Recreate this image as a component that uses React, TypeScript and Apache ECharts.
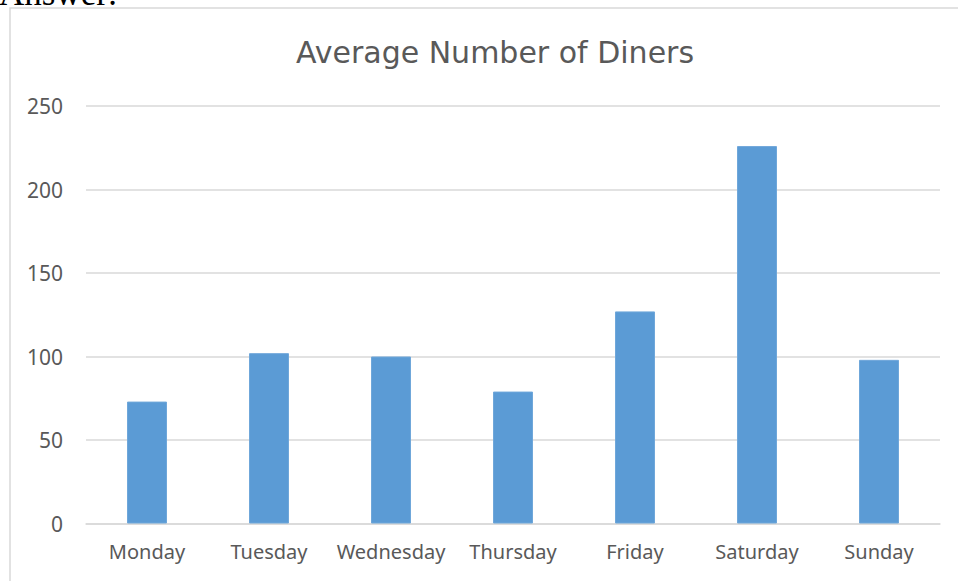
import React, { useEffect, useRef } from "react";
import * as echarts from "echarts";

const categories = ["Monday", "Tuesday", "Wednesday", "Thursday", "Friday", "Saturday", "Sunday"];
const diners = [73, 102, 100, 79, 127, 226, 98];
const chartTitle = "Average Number of Diners";
const topText = "Answer:";

export default function App() {
  const ref = useRef<HTMLDivElement>(null);
  useEffect(() => {
    if (!ref.current) return;
    const chart = echarts.init(ref.current, undefined, { renderer: "svg" });
    chart.setOption({
      animation: false,
      backgroundColor: "#ffffff",
      title: {
        text: chartTitle,
        left: 490,
        textAlign: "center",
        top: 32,
        textStyle: {
          fontFamily: "DejaVu Sans",
          fontSize: 30,
          fontWeight: "normal",
          color: "#595959",
        },
      },
      graphic: [
        {
          type: "rect",
          shape: { x: 10, y: 8, width: 980, height: 620 },
          style: { fill: "none", stroke: "#d9d9d9", lineWidth: 1.5 },
          silent: true,
        },
        {
          type: "text",
          x: -1,
          y: -24,
          style: {
            text: topText,
            font: "35px 'Liberation Serif'",
            fill: "#000000",
            textVerticalAlign: "top",
          },
          silent: true,
        },
      ],
      grid: { left: 86, right: 18, top: 106, bottom: 57.5, containLabel: false },
      xAxis: {
        type: "category",
        data: categories,
        axisLine: { show: true, lineStyle: { color: "#d9d9d9", width: 1.5 } },
        axisTick: { show: false },
        axisLabel: {
          interval: 0,
          color: "#595959",
          fontSize: 20,
          fontFamily: "Noto Sans",
          margin: 18,
        },
      },
      yAxis: {
        type: "value",
        min: 0,
        max: 250,
        interval: 50,
        axisLine: { show: false },
        axisTick: { show: false },
        splitLine: { lineStyle: { color: "#d9d9d9", width: 1.5 } },
        axisLabel: {
          color: "#595959",
          fontSize: 21,
          fontFamily: "Noto Sans",
          margin: 23,
        },
      },
      series: [
        {
          type: "bar",
          data: diners,
          barWidth: 40,
          itemStyle: { color: "#5b9bd5", borderColor: "#6fa7da", borderWidth: 1 },
        },
      ],
    });
    return () => chart.dispose();
  }, []);
  return (
    <div
      ref={ref}
      style={{ position: "absolute", left: 0, top: 0, width: 958, height: 581 }}
    />
  );
}
